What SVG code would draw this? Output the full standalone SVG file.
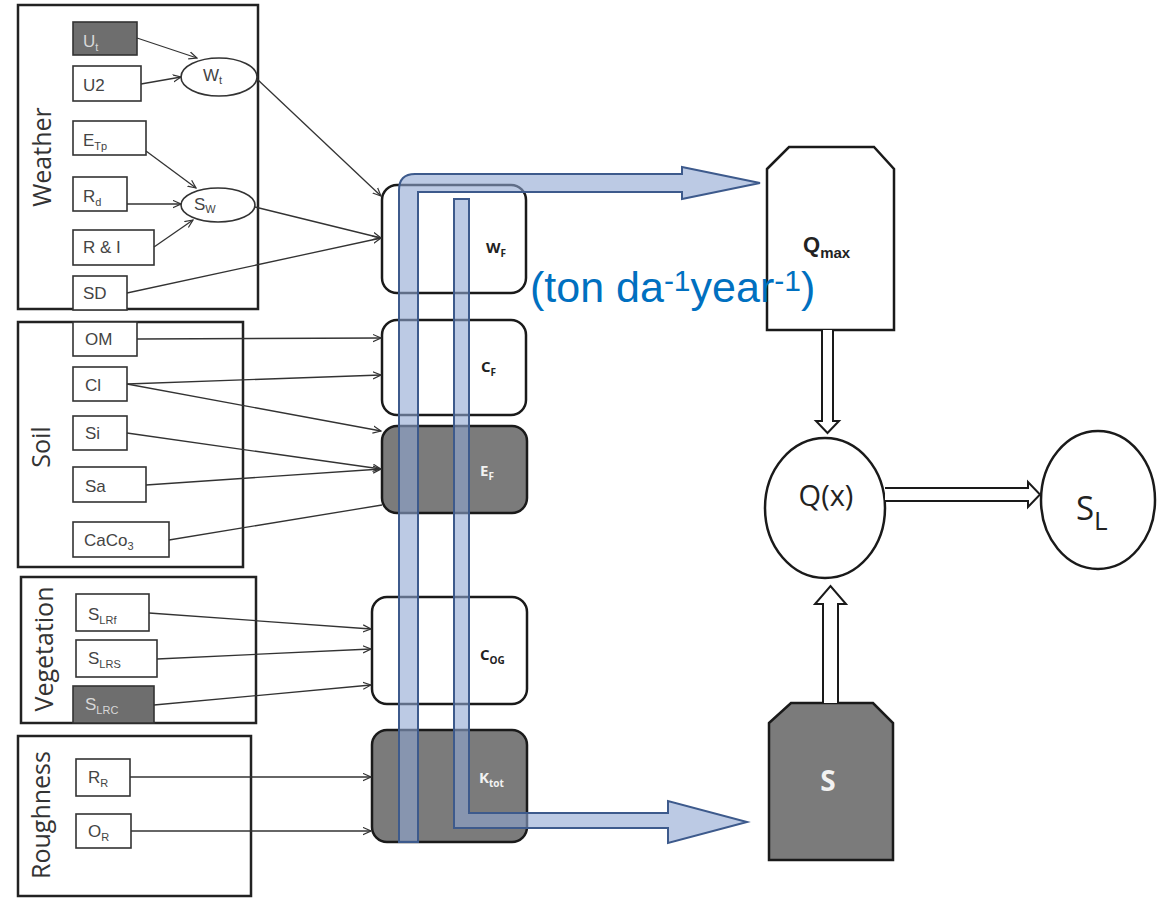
<svg xmlns="http://www.w3.org/2000/svg" width="1157" height="899" viewBox="0 0 1157 899">
  <defs>
    <style>
      .frame { fill: none; stroke: #222; stroke-width: 2.5; }
      .in { fill: #fff; stroke: #333; stroke-width: 1.6; }
      .in-dark { fill: #6e6e6e; stroke: #333; stroke-width: 1.6; }
      .lbl { font-family: "Liberation Sans", Arial, sans-serif; font-size: 17px; fill: #444; }
      .lbl-w { font-family: "Liberation Sans", Arial, sans-serif; font-size: 17px; fill: #d8d8d8; }
      .sub { font-size: 11px; }
      .grp { font-family: "Open Sans", sans-serif; font-size: 25px; fill: #333; text-anchor: middle; }
      .fac { fill: #fff; stroke: #1a1a1a; stroke-width: 2.5; }
      .fac-dark { fill: #7b7b7b; stroke: #1a1a1a; stroke-width: 2.5; }
      .flab { font-family: "Open Sans", sans-serif; font-weight: bold; font-size: 15px; fill: #222; }
      .flab-w { font-family: "Open Sans", sans-serif; font-weight: bold; font-size: 15px; fill: #f2f2f2; }
      .fsub { font-size: 10px; }
      .link { fill: none; stroke: #333; stroke-width: 1.3; }
      .pipe { fill: rgb(143,166,210); fill-opacity: 0.6; stroke: #3d5a8c; stroke-width: 2; stroke-linejoin: miter; }
      .hollow { fill: #fff; stroke: #1a1a1a; stroke-width: 2; stroke-linejoin: miter; }
      .out { fill: #fff; stroke: #1a1a1a; stroke-width: 2.5; }
    </style>
    <marker id="open" viewBox="0 0 10 10" refX="9" refY="5" markerWidth="9" markerHeight="9" markerUnits="userSpaceOnUse" orient="auto">
      <path d="M0,1 L9,5 L0,9" fill="none" stroke="#333" stroke-width="1.3"/>
    </marker>
  </defs>

  <!-- Weather group -->
  <g id="weather">
    <rect class="frame" x="18" y="5" width="240" height="304"/>
    <text class="grp" transform="translate(51,157) rotate(-90)">Weather</text>
    <g id="ut"><rect class="in-dark" x="73" y="22" width="64" height="33"/><text class="lbl-w" x="83" y="47">U<tspan class="sub" dy="4">t</tspan></text></g>
    <g id="u2"><rect class="in" x="73" y="66" width="68" height="35"/><text class="lbl" x="83" y="91">U2</text></g>
    <g id="etp"><rect class="in" x="73" y="121" width="73" height="34"/><text class="lbl" x="83" y="146">E<tspan class="sub" dy="4">Tp</tspan></text></g>
    <g id="rd"><rect class="in" x="73" y="177" width="54" height="34"/><text class="lbl" x="83" y="202">R<tspan class="sub" dy="4">d</tspan></text></g>
    <g id="ri"><rect class="in" x="73" y="230" width="81" height="35"/><text class="lbl" x="83" y="253">R &amp; I</text></g>
    <g id="sd"><rect class="in" x="73" y="276" width="54" height="34"/><text class="lbl" x="83" y="299">SD</text></g>
    <g id="wt"><ellipse class="in" cx="219" cy="77" rx="38" ry="19" stroke-width="2"/><text class="lbl" x="203" y="81" font-size="14">W<tspan class="sub" dy="3" font-size="9">t</tspan></text></g>
    <g id="sw"><ellipse class="in" cx="218" cy="205" rx="37" ry="17" stroke-width="2"/><text class="lbl" x="194" y="210" font-size="14">S<tspan class="sub" dy="3" font-size="9">W</tspan></text></g>
  </g>

  <!-- Soil group -->
  <g id="soil">
    <rect class="frame" x="18" y="322" width="225" height="245"/>
    <text class="grp" transform="translate(50,447) rotate(-90)">Soil</text>
    <g id="om"><rect class="in" x="73" y="322" width="64" height="34"/><text class="lbl" x="85" y="345">OM</text></g>
    <g id="cl"><rect class="in" x="73" y="367" width="54" height="34"/><text class="lbl" x="85" y="391">Cl</text></g>
    <g id="si"><rect class="in" x="73" y="416" width="54" height="34"/><text class="lbl" x="85" y="439">Si</text></g>
    <g id="sa"><rect class="in" x="73" y="467" width="73" height="35"/><text class="lbl" x="85" y="492">Sa</text></g>
    <g id="caco3"><rect class="in" x="73" y="522" width="96" height="35"/><text class="lbl" x="84" y="546">CaCo<tspan class="sub" dy="4">3</tspan></text></g>
  </g>

  <!-- Vegetation group -->
  <g id="vegetation">
    <rect class="frame" x="21" y="577" width="235" height="146"/>
    <text class="grp" transform="translate(53,649) rotate(-90)">Vegetation</text>
    <g id="slrf"><rect class="in" x="76" y="594" width="73" height="37"/><text class="lbl" x="88" y="620">S<tspan class="sub" dy="4">LRf</tspan></text></g>
    <g id="slrs"><rect class="in" x="76" y="640" width="81" height="37"/><text class="lbl" x="88" y="664">S<tspan class="sub" dy="4">LRS</tspan></text></g>
    <g id="slrc"><rect class="in-dark" x="73" y="686" width="81" height="37"/><text class="lbl-w" x="85" y="710">S<tspan class="sub" dy="4">LRC</tspan></text></g>
  </g>

  <!-- Roughness group -->
  <g id="roughness">
    <rect class="frame" x="18" y="736" width="233" height="160"/>
    <text class="grp" transform="translate(50,815) rotate(-90)">Roughness</text>
    <g id="rr"><rect class="in" x="76" y="759" width="54" height="37"/><text class="lbl" x="88" y="783">R<tspan class="sub" dy="4">R</tspan></text></g>
    <g id="or"><rect class="in" x="76" y="814" width="55" height="34"/><text class="lbl" x="88" y="837">O<tspan class="sub" dy="4">R</tspan></text></g>
  </g>

  <!-- Factor boxes -->
  <g id="wf"><rect class="fac" x="382" y="185" width="144" height="108" rx="15"/><text class="flab" x="486" y="253">W<tspan class="fsub" dy="4">F</tspan></text></g>
  <g id="cf"><rect class="fac" x="382" y="320" width="144" height="95" rx="15"/><text class="flab" x="481" y="372">C<tspan class="fsub" dy="4">F</tspan></text></g>
  <g id="ef"><rect class="fac-dark" x="382" y="426" width="145" height="87" rx="15"/><text class="flab-w" x="480" y="476">E<tspan class="fsub" dy="4">F</tspan></text></g>
  <g id="cog"><rect class="fac" x="372" y="597" width="155" height="107" rx="15"/><text class="flab" x="480" y="660">C<tspan class="fsub" dy="4">OG</tspan></text></g>
  <g id="ktot"><rect class="fac-dark" x="372" y="730" width="155" height="112" rx="15"/><text class="flab-w" x="479" y="783">K<tspan class="fsub" dy="4">tot</tspan></text></g>

  <!-- Output nodes -->
  <g id="qmax">
    <path class="fac" d="M767,169 L789,147 L874,147 L894,169 L894,330 L767,330 Z"/>
    <text font-family="Liberation Sans, Arial, sans-serif" font-weight="bold" font-size="22" fill="#222" x="803" y="252">Q<tspan font-size="15" dy="6">max</tspan></text>
  </g>
  <g id="s">
    <path class="fac-dark" d="M769,723 L791,703 L873,703 L893,723 L893,860 L769,860 Z"/>
    <text font-family="Open Sans, sans-serif" font-weight="bold" font-size="28" fill="#f2f2f2" x="828" y="791" text-anchor="middle">S</text>
  </g>
  <g id="qx">
    <ellipse class="out" cx="825" cy="508" rx="60" ry="70"/>
    <text font-family="Open Sans, sans-serif" font-size="29" fill="#222" x="826" y="506" text-anchor="middle">Q(x)</text>
  </g>
  <g id="sl">
    <ellipse class="out" cx="1098" cy="500" rx="57" ry="69"/>
    <text font-family="Open Sans, sans-serif" font-size="33" fill="#222" x="1076" y="520">S<tspan font-size="26" dy="10">L</tspan></text>
  </g>

  <!-- Connectors -->
  <g id="connectors">
    <line class="link" x1="137" y1="38" x2="197" y2="58" marker-end="url(#open)"/>
    <line class="link" x1="141" y1="84" x2="181" y2="77" marker-end="url(#open)"/>
    <line class="link" x1="146" y1="151" x2="196" y2="188" marker-end="url(#open)"/>
    <line class="link" x1="127" y1="204" x2="181" y2="204" marker-end="url(#open)"/>
    <line class="link" x1="154" y1="247" x2="193" y2="220" marker-end="url(#open)"/>
    <line class="link" x1="257" y1="79" x2="381" y2="196" marker-end="url(#open)"/>
    <line class="link" x1="255" y1="207" x2="381" y2="238" marker-end="url(#open)"/>
    <line class="link" x1="127" y1="293" x2="381" y2="238" marker-end="url(#open)"/>

    <line class="link" x1="137" y1="339" x2="381" y2="338" marker-end="url(#open)"/>
    <line class="link" x1="127" y1="384" x2="381" y2="375" marker-end="url(#open)"/>
    <line class="link" x1="127" y1="384" x2="381" y2="431" marker-end="url(#open)"/>
    <line class="link" x1="127" y1="433" x2="381" y2="469" marker-end="url(#open)"/>
    <line class="link" x1="146" y1="485" x2="381" y2="469" marker-end="url(#open)"/>
    <line class="link" x1="169" y1="540" x2="382" y2="505"/>

    <line class="link" x1="149" y1="613" x2="371" y2="629" marker-end="url(#open)"/>
    <line class="link" x1="157" y1="659" x2="371" y2="649" marker-end="url(#open)"/>
    <line class="link" x1="154" y1="705" x2="371" y2="685" marker-end="url(#open)"/>

    <line class="link" x1="130" y1="777" x2="371" y2="777" marker-end="url(#open)"/>
    <line class="link" x1="131" y1="831" x2="371" y2="831" marker-end="url(#open)"/>

    <!-- flow pipes -->
    <path class="pipe" d="M399,842 L399,190 Q399,174 415,174 L682,174 L682,167 L760,183 L682,199 L682,192 L418,192 L418,842 Z"/>
    <path class="pipe" d="M454,199 L469,199 L469,813 L668,813 L668,801 L747,822 L668,843 L668,828 L454,828 Z"/>

    <!-- hollow block arrows -->
    <path class="hollow" d="M822,330 L822,421 L816,421 L827.5,433 L839,421 L833,421 L833,330"/>
    <path class="hollow" d="M885,488 L1028,488 L1028,482 L1040,494.5 L1028,507 L1028,501 L885,501"/>
    <path class="hollow" d="M823,703 L823,604 L815,604 L830.5,586 L846,604 L838,604 L838,703"/>
  </g>

  <!-- Unit annotation -->
  <text font-family="Liberation Sans, Arial, sans-serif" font-size="43" fill="#0070c0" x="530" y="302">(ton da<tspan font-size="30" dy="-11">-1</tspan><tspan dy="11">year</tspan><tspan font-size="30" dy="-11">-1</tspan><tspan dy="11">)</tspan></text>
</svg>
